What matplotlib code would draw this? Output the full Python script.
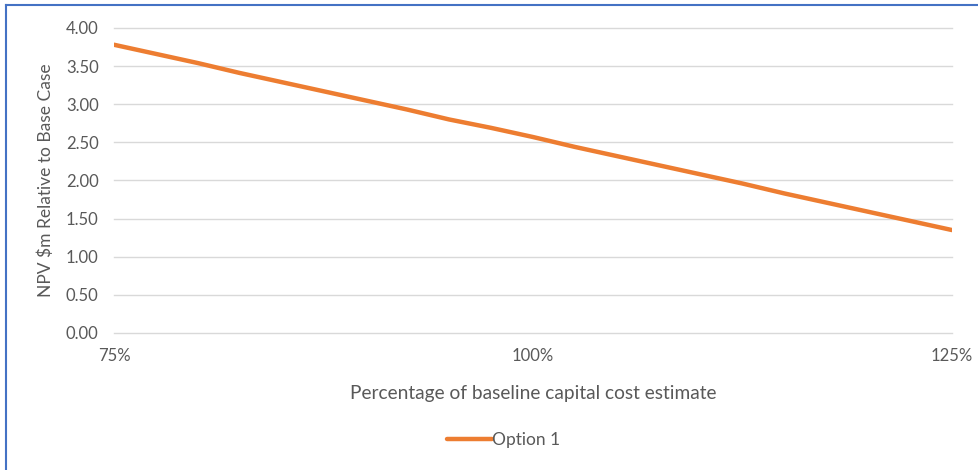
import matplotlib.pyplot as plt
from matplotlib.lines import Line2D
from matplotlib.ticker import FuncFormatter

# data
pct_of_baseline = [75, 77.5, 80, 82.5, 85, 87.5, 90, 92.5, 95, 97.5, 100,
                   102.5, 105, 107.5, 110, 112.5, 115, 117.5, 120, 122.5, 125]
npv_option1 = [3.78, 3.66, 3.54, 3.41, 3.29, 3.17, 3.05, 2.93, 2.80, 2.69, 2.57,
               2.44, 2.32, 2.20, 2.08, 1.96, 1.83, 1.71, 1.59, 1.47, 1.35]
x_ticks = [75, 100, 125]
y_ticks = [0, 0.5, 1.0, 1.5, 2.0, 2.5, 3.0, 3.5, 4.0]

plt.rcParams['font.family'] = ['Lato', 'DejaVu Sans']
grey = '#595959'

fig = plt.figure(figsize=(9.79, 4.70), dpi=100)
ax = fig.add_axes([0.1164, 0.2915, 0.856, 0.649])

ax.plot(pct_of_baseline, npv_option1, color='#ED7D31', linewidth=3.2,
        solid_capstyle='round', label='Option 1', zorder=3)

ax.set_xlim(75, 125)
ax.set_ylim(0, 4)
ax.set_xticks(x_ticks)
ax.set_yticks(y_ticks)
ax.xaxis.set_major_formatter(FuncFormatter(lambda v, p: f'{v:.0f}%'))
ax.yaxis.set_major_formatter(FuncFormatter(lambda v, p: f'{v:.2f}'))
ax.tick_params(length=0, labelsize=12, colors=grey)
ax.tick_params(axis='x', pad=11)
ax.tick_params(axis='y', pad=11)

ax.grid(axis='y', color='#D9D9D9', linewidth=1)
for gl in ax.get_ygridlines():
    gl.set_clip_on(False)
for s in ax.spines.values():
    s.set_visible(False)

ax.set_xlabel('Percentage of baseline capital cost estimate', fontsize=13.8,
              color=grey)
ax.xaxis.set_label_coords(0.5, -0.17)
ax.set_ylabel('NPV $m Relative to Base Case', fontsize=12.5, color=grey)
ax.yaxis.set_label_coords(-0.071, 0.5)

ax.legend(loc='center', bbox_to_anchor=(0.514, 0.063), bbox_transform=fig.transFigure,
          frameon=False, fontsize=12.5, labelcolor=grey, handlelength=2.6,
          handletextpad=0.0)

# blue frame edges seen on the left and top of the screenshot
fig.add_artist(Line2D([0.006, 0.006], [0, 0.99], transform=fig.transFigure,
                      color='#4472C4', linewidth=1.5))
fig.add_artist(Line2D([0.006, 1.0], [0.99, 0.99], transform=fig.transFigure,
                      color='#4472C4', linewidth=1.5))

fig.savefig('out.png', dpi=100)
